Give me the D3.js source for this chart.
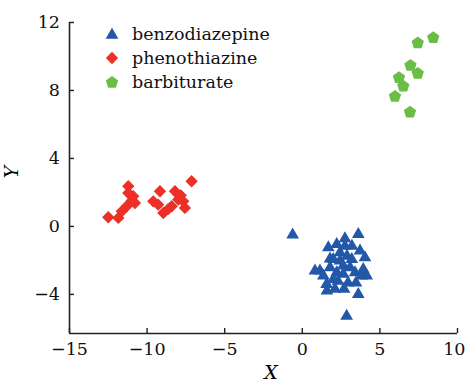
<!DOCTYPE html>
<html><head><meta charset="utf-8">
<script src="https://cdn.jsdelivr.net/npm/d3@7"></script>
<style>body{margin:0;background:#fff;} svg{display:block;}</style>
</head><body>
<svg id="c" width="465" height="382"></svg>
<script>
const xTicks = [-15, -10, -5, 0, 5, 10];
const yTicks = [-4, 0, 4, 8, 12];
const seriesNames = ["benzodiazepine", "phenothiazine", "barbiturate"];
const benzodiazepine = [
  [-0.59,-0.47],[3.64,-0.43],[2.78,-0.68],[1.71,-1.22],[2.25,-1.02],[2.46,-1.51],
  [3.75,-1.41],[4.07,-1.81],[3.22,-1.9],[1.17,-2.59],[3.96,-2.49],[1.39,-2.88],
  [4.18,-2.88],[2.03,-1.9],[2.67,-2.29],[2.25,-2.69],[3.43,-2.69],[0.85,-2.59],
  [1.6,-3.37],[2.14,-3.66],[2.03,-3.08],[2.67,-2.78],[3.64,-3.96],[2.89,-5.24],
  [3.11,-2.39],[1.82,-2.39],[3.86,-2.88],[2.46,-2.0],[2.91,-1.71],[2.33,-3.18],
  [2.98,-3.29],[2.78,-1.12],[3.23,-1.12],[1.82,-1.88],[3.49,-3.29],[2.72,-3.65],
  [1.62,-3.76]
];
const phenothiazine = [
  [-12.47,0.51],[-11.82,0.47],[-11.6,0.86],[-11.28,1.16],[-10.75,1.35],[-10.86,1.75],
  [-11.18,1.94],[-11.18,2.34],[-10.95,1.5],
  [-9.14,2.04],[-9.57,1.45],[-9.25,1.25],[-8.92,0.76],[-8.6,1.0],[-8.17,2.04],
  [-7.96,1.55],[-7.64,1.45],[-7.53,1.06],[-7.1,2.63],[-8.38,1.16],[-7.8,1.8]
];
const barbiturate = [
  [8.47,11.1],[7.47,10.8],[7.0,9.47],[7.47,9.0],[6.26,8.75],[6.54,8.25],[6.0,7.65],[6.97,6.72]
];
const colors = ["#2357a8", "#ec2f27", "#6abe45"];

const svg = d3.select("#c");
const x = d3.scaleLinear().domain([-15, 10]).range([69, 457]);
const y = d3.scaleLinear().domain([-6.3, 12]).range([333, 22]);
const font = "DejaVu Serif, serif";
const fmt = d => (d < 0 ? "\u2212" + Math.abs(d) : "" + d);

const triPath = d3.symbol().type(d3.symbolTriangle).size(70)();
const diaPath = d3.symbol().type(d3.symbolSquare).size(76)();
function pentPath(r) {
  const pts = d3.range(5).map(i => {
    const a = -Math.PI / 2 + i * 2 * Math.PI / 5;
    return [r * Math.cos(a), r * Math.sin(a)];
  });
  return "M" + pts.map(p => p.join(",")).join("L") + "Z";
}
const pPath = pentPath(6.5);
const shapes = [
  {d: triPath, rot: 0, dy: 1},
  {d: diaPath, rot: 45, dy: 0},
  {d: pPath, rot: 0, dy: 0.5}
];
const data = [benzodiazepine, phenothiazine, barbiturate];

// axes
const xAxis = d3.axisBottom(x).tickValues(xTicks).tickSize(-5).tickSizeOuter(0).tickFormat(fmt).tickPadding(10);
const yAxis = d3.axisLeft(y).tickValues(yTicks).tickSize(-5).tickSizeOuter(0).tickFormat(fmt).tickPadding(9);
const gx = svg.append("g").attr("transform", "translate(0,333)").call(xAxis);
const gy = svg.append("g").attr("transform", "translate(69,0)").call(yAxis);
[gx, gy].forEach(g => {
  g.select(".domain").attr("stroke", "#222").attr("stroke-width", 1.6);
  g.selectAll(".tick line").attr("stroke", "#222").attr("stroke-width", 1.4);
  g.selectAll(".tick text").attr("font-family", font).attr("font-size", 17.5).attr("fill", "#111");
});
gx.selectAll(".tick text").filter(d => d === 10).attr("text-anchor", "end").attr("x", 8);
gy.select(".domain").attr("d", "M0.5,333V22");
gx.select(".domain").attr("d", "M69,0.5H457");

// points
data.forEach((pts, i) => {
  svg.append("g").selectAll("path").data(pts).join("path")
    .attr("d", shapes[i].d)
    .attr("transform", d => `translate(${x(d[0])},${y(d[1]) + shapes[i].dy}) rotate(${shapes[i].rot})`)
    .attr("fill", colors[i]);
});

// legend
const lg = svg.append("g");
seriesNames.forEach((n, i) => {
  const yy = 34 + i * 24;
  lg.append("path").attr("d", shapes[i].d)
    .attr("transform", `translate(112,${yy + shapes[i].dy}) rotate(${shapes[i].rot})`)
    .attr("fill", colors[i]);
  lg.append("text").attr("x", 132).attr("y", yy + 6).text(n)
    .attr("font-family", font).attr("font-size", 17.5).attr("fill", "#111");
});

// axis labels
svg.append("text").attr("x", 271).attr("y", 379).attr("text-anchor", "middle")
  .attr("font-family", font).attr("font-style", "italic").attr("font-size", 19).text("X");
svg.append("text").attr("transform", "translate(18,172) rotate(-90)").attr("text-anchor", "middle")
  .attr("font-family", font).attr("font-style", "italic").attr("font-size", 19).text("Y");
</script>
</body></html>
